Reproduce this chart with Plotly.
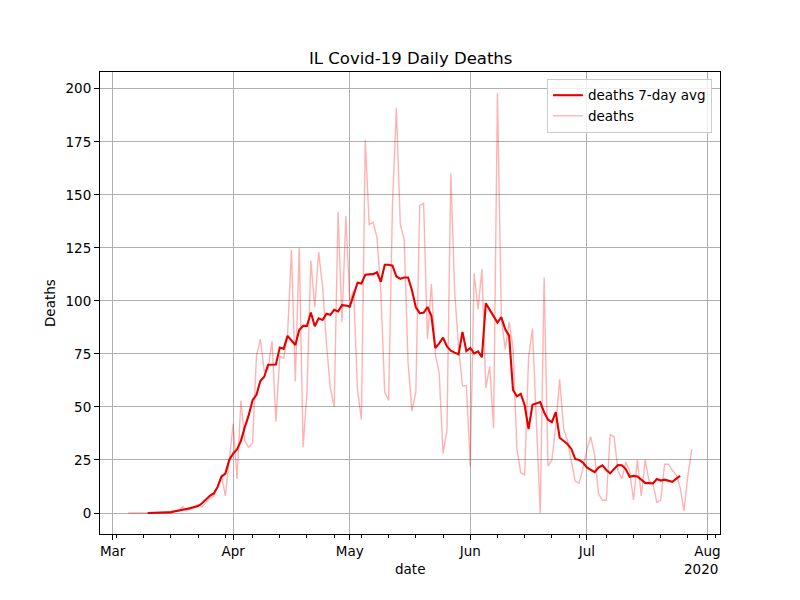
import pandas as pd
import plotly.graph_objects as go

# ---- data ----
deaths_start = "2020-03-05"
deaths = [
    0, 0, 0, 0, 0, 0, 0, 0, 0, 0, 0, 0,
    1, 1, 3, 1, 2, 3, 4, 3, 5, 7, 8, 12, 18, 8, 25,
    42, 16, 53, 34, 31, 33, 74, 82, 67, 68,
    81, 43, 74, 73, 84, 124, 62, 125, 31, 57,
    119, 97, 123, 107, 80, 59, 50, 142, 90, 140,
    100, 105, 58, 44, 176, 136, 137, 130, 104, 57,
    53, 146, 191, 136, 129, 71, 48, 57, 145, 146,
    82, 108, 75, 66, 28, 39, 160, 104, 78, 60,
    60, 22, 113, 96, 115, 59, 69, 40, 198, 92,
    77, 90, 78, 30, 19, 18, 73, 87, 47, 0,
    111, 22, 25, 41, 63, 40, 34, 25, 15, 14,
    21, 30, 36, 27, 9, 6, 6, 37, 36, 20,
    16, 24, 20, 6, 25, 8, 25, 15, 14, 5,
    6, 23, 23, 20, 18, 12, 1, 18, 30,
]

avg_start = "2020-03-10"
avg7 = [
    0, 0, 0, 0, 0.1, 0.3, 0.4,
    0.7, 1.1, 1.4, 1.9, 2.3, 2.9, 3.3, 4.6, 6.2, 8.1, 9.2, 12.3, 17.1, 18.6, 25,
    28, 30, 34, 40.5, 46, 53.2, 55.7, 62.2, 64.2, 69.9,
    69.8, 70, 78, 77.4, 83.5, 81.5, 79.2, 86.3, 88.2, 88.2,
    94.5, 88, 91.8, 91, 93.9, 93.4, 95.8, 95, 98, 97.8,
    97.3, 102.8, 108.6, 108.2, 112.3, 112.5, 112.6, 113.5, 109, 117,
    117, 116.6, 111.5, 110.4, 111, 111, 105, 97, 94.2, 94.4,
    97.1, 93, 77.8, 80, 82.7, 78.5, 76.5, 75.6, 74.8, 85.4,
    76.3, 77.8, 75.2, 76.2, 73.5, 98.8, 95.8, 92.8, 89.8, 92.3,
    86.6, 83.6, 58, 55, 56.2, 50.8, 39.6, 51, 51.5, 52.3,
    47.5, 44, 42.8, 47.5, 35.5, 34.2, 32.5, 30.2, 25.5, 25,
    23.8, 21.5, 20.3, 19.3, 21.4, 22.5, 20.3, 18.7, 20.8, 22.6,
    22.5, 20.7, 17.1, 17.5, 17.2, 15.9, 14.2, 14.1, 13.9, 16,
    15.3, 15.7, 15.3, 14.7, 16.2, 17.5,
]

title_text = "IL Covid-19 Daily Deaths"
x_label = "date"
y_label = "Deaths"
year_label = "2020"

deaths_dates = pd.date_range(deaths_start, periods=len(deaths), freq="D")
avg_dates = pd.date_range(avg_start, periods=len(avg7), freq="D")

FONT = "DejaVu Sans"
fig = go.Figure()
fig.add_trace(go.Scatter(
    x=deaths_dates, y=deaths, mode="lines", name="deaths",
    line=dict(color="rgba(255,0,0,0.3)", width=1.4), legendrank=2,
))
fig.add_trace(go.Scatter(
    x=avg_dates, y=avg7, mode="lines", name="deaths 7-day avg",
    line=dict(color="rgb(230,0,0)", width=2.1), legendrank=1,
))

axis_common = dict(
    showline=True, mirror=True, linecolor="black", linewidth=1,
    ticks="outside", ticklen=5, tickcolor="black", tickwidth=1,
    showgrid=True, gridcolor="#b0b0b0", gridwidth=1,
    zeroline=False,
    tickfont=dict(family=FONT, size=13.5, color="black"),
)

fig.update_layout(
    width=784, height=584,
    margin=dict(l=92, r=72, t=64, b=58),
    paper_bgcolor="white", plot_bgcolor="white",
    font=dict(family=FONT, color="black"),
    showlegend=True,
    legend=dict(
        x=0.987, y=0.985, xanchor="right", yanchor="top",
        bgcolor="rgba(255,255,255,0.8)", bordercolor="#cccccc", borderwidth=1,
        font=dict(family=FONT, size=13.5, color="black"),
        tracegroupgap=0,
    ),
    xaxis=dict(
        axis_common, type="date",
        range=["2020-02-26 18:00", "2020-08-04 06:00"],
        tick0="2020-03-01", dtick="M1", tickformat="%b",
        minor=dict(ticks="outside", ticklen=3, tickcolor="black",
                   tick0="2020-03-02", dtick=7 * 86400000, showgrid=False),
    ),
    yaxis=dict(
        axis_common, range=[-9.9, 207.9], tick0=0, dtick=25,
    ),
    annotations=[
        dict(text=title_text, xref="paper", yref="paper", x=0.5, y=1.0303,
             xanchor="center", yanchor="middle", showarrow=False,
             font=dict(family=FONT, size=16.5, color="black")),
        dict(text=x_label, xref="paper", yref="paper", x=0.5, y=-0.0758,
             xanchor="center", yanchor="middle", showarrow=False,
             font=dict(family=FONT, size=13.5, color="black")),
        dict(text=year_label, xref="paper", yref="paper", x=1.0, y=-0.0758,
             xanchor="right", yanchor="middle", showarrow=False,
             font=dict(family=FONT, size=13.5, color="black")),
        dict(text=y_label, xref="paper", yref="paper", x=-0.0806, y=0.5,
             xanchor="center", yanchor="middle", showarrow=False, textangle=-90,
             font=dict(family=FONT, size=13.5, color="black")),
    ],
)

fig.write_html("out.html")
